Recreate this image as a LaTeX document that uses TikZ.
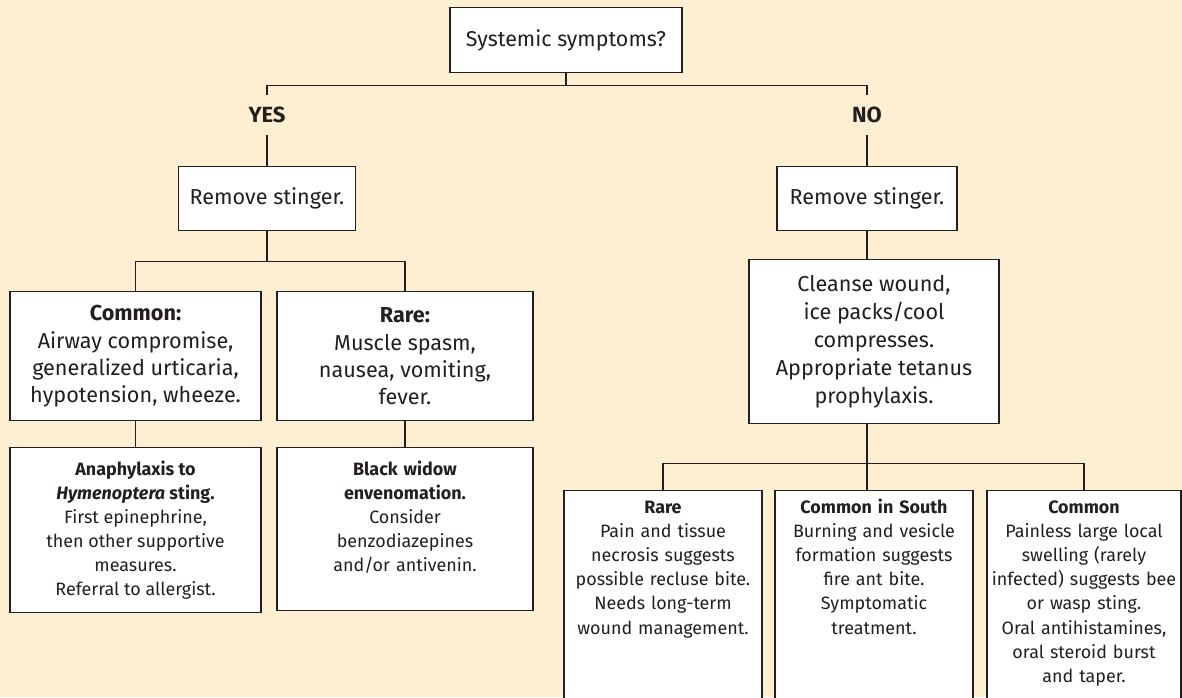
\documentclass[tikz,border=0pt]{standalone}
\usepackage{fontspec}
\setmainfont{Fira Sans}
\usepackage{tikz}
\definecolor{cream}{HTML}{FFEFD2}
\definecolor{ink}{HTML}{231F20}

\begin{document}
\begin{tikzpicture}[x=0.02cm,y=-0.02cm,font=\fontsize{12.3}{15.4}\selectfont,text=ink,
  box/.style={draw=ink,fill=white,line width=0.8pt,align=center,anchor=north,inner sep=2pt},
  topbox/.style={box,inner xsep=0pt,inner ysep=0.2cm},
  small/.style={font=\fontsize{10.2}{13.7}\selectfont},
  answer/.style={font=\fontsize{12.5}{15}\selectfont\bfseries,inner sep=0pt,minimum height=0.78cm},
  link/.style={draw=ink,line width=0.7pt}]
\useasboundingbox (0,0) rectangle (1182,697);
\clip (0,0) rectangle (1182,697);
\fill[cream] (0,0) rectangle (1182,697);
\node[box,minimum width=4.64cm,minimum height=1.3cm,font=\fontsize{12.2}{15}\selectfont] (sys) at (566,7) {Systemic symptoms?};
\node[answer] (yes) at (267,115) {YES};
\node[answer] (no) at (867,115) {NO};
\node[box,minimum width=3.54cm,minimum height=1.28cm] (stingL) at (267,166) {Remove stinger.};
\node[box,minimum width=3.6cm,minimum height=1.28cm] (stingR) at (867,166) {Remove stinger.};
\node[box,minimum width=5.02cm,minimum height=2.58cm] (common) at (135.5,291) {\textbf{Common:}\\Airway compromise,\\generalized urticaria,\\hypotension, wheeze.};
\node[box,minimum width=5.12cm,minimum height=2.58cm] (rare) at (405,291) {\textbf{Rare:}\\Muscle spasm,\\nausea, vomiting,\\fever.};
\node[box,small,minimum width=5.02cm,minimum height=3.3cm] (ana) at (135.5,447) {\textbf{Anaphylaxis to}\\\textbf{\textit{Hymenoptera} sting.}\\First epinephrine,\\then other supportive\\measures.\\Referral to allergist.};
\node[topbox,small,text width=5.12cm,text height=0.36cm,text depth=2.5cm] (widow) at (405,447) {\textbf{Black widow}\\\textbf{envenomation.}\\Consider\\benzodiazepines\\and/or antivenin.};
\node[box,minimum width=5cm,minimum height=3.28cm,font=\fontsize{12.3}{16}\selectfont] (cleanse) at (874,259) {Cleanse wound,\\ice packs/cool\\compresses.\\Appropriate tetanus\\prophylaxis.};
\node[topbox,small,text width=3.96cm,text height=0.26cm,text depth=4cm] (recluse) at (663,490) {\textbf{Rare}\\Pain and tissue\\necrosis suggests\\possible recluse bite.\\Needs long-term\\wound management.};
\node[topbox,small,text width=3.96cm,text height=0.26cm,text depth=4cm] (fireant) at (874,490) {\textbf{Common in South}\\Burning and vesicle\\formation suggests\\fire ant bite.\\Symptomatic\\treatment.};
\node[topbox,small,text width=3.88cm,text height=0.26cm,text depth=4cm] (bee) at (1084,490) {\textbf{Common}\\Painless large local\\swelling (rarely\\infected) suggests bee\\or wasp sting.\\Oral antihistamines,\\oral steroid burst\\and taper.};
\draw[link] (sys.south) -- ++(0,12) coordinate (top);
\draw[link] (yes.north) -- (yes.north |- top) -- (no.north |- top) -- (no.north);
\draw[link] (yes.south) -- (stingL.north);
\draw[link] (no.south) -- (stingR.north);
\draw[link] (stingL.south) -- ++(0,30) coordinate (left);
\draw[link] (common.north) -- (common.north |- left) -- (rare.north |- left) -- (rare.north);
\draw[link] (common.south) -- (ana.north);
\draw[link] (rare.south) -- (widow.north);
\draw[link] (stingR.south) -- (stingR.south |- cleanse.north);
\draw[link] (stingR.south |- cleanse.south) -- ++(0,39) coordinate (right) -- (stingR.south |- fireant.north);
\draw[link] (recluse.north) -- (recluse.north |- right) -- (bee.north |- right) -- (bee.north);
\end{tikzpicture}
\end{document}
